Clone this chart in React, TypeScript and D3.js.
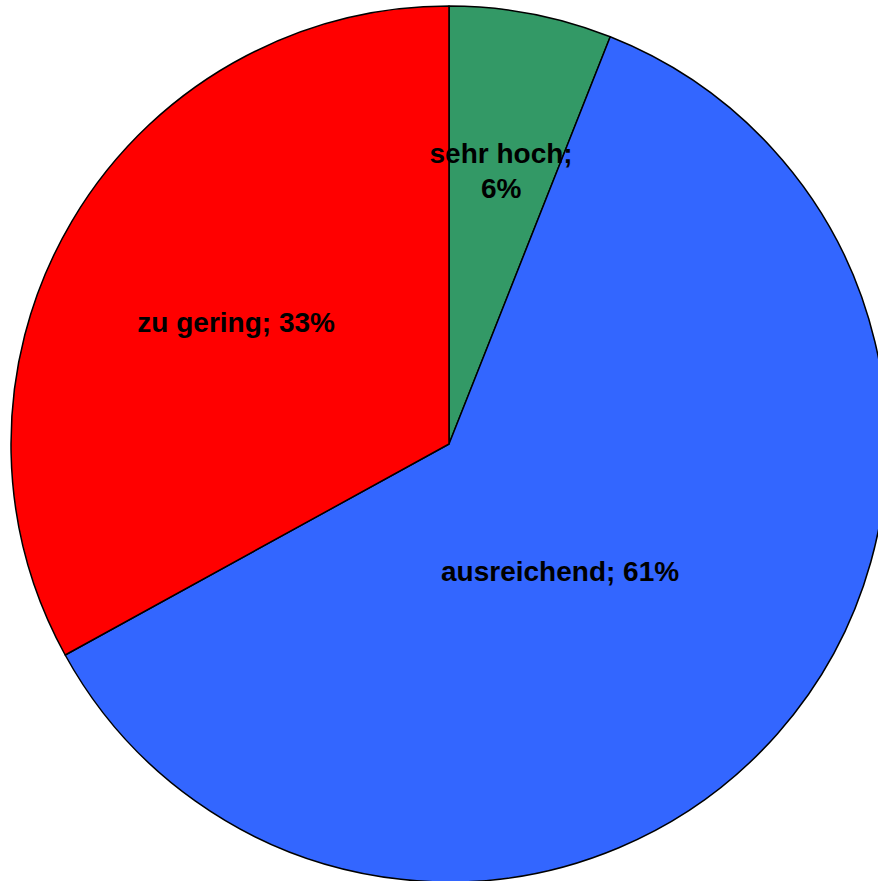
import { useEffect, useRef } from 'react';
import * as d3 from 'd3';

const categories = ['sehr hoch', 'ausreichend', 'zu gering'];
const values = [6, 61, 33];
const colors = ['#339966', '#3366FF', '#FF0000'];

// label placement (angle in degrees clockwise from top, radius as fraction of pie radius)
const labelLayout = [
  { angle: 10.8, r: 0.635, lines: (c: string, v: number) => [`${c};`, `${v}%`] },
  { angle: 138.8, r: 0.385, lines: (c: string, v: number) => [`${c}; ${v}%`] },
  { angle: 299.8, r: 0.56, lines: (c: string, v: number) => [`${c}; ${v}%`] },
];

export default function App() {
  const svgRef = useRef<SVGSVGElement | null>(null);

  useEffect(() => {
    if (!svgRef.current) return;
    const width = 878;
    const height = 881;
    const cx = 449;
    const cy = 444;
    const radius = 438;

    d3.select(svgRef.current).selectAll('*').remove();

    const svg = d3
      .select(svgRef.current)
      .attr('width', width)
      .attr('height', height)
      .append('g')
      .attr('transform', `translate(${cx},${cy})`);

    const pie = d3
      .pie<number>()
      .sort(null)
      .value((d) => d);

    const arc = d3.arc<d3.PieArcDatum<number>>().innerRadius(0).outerRadius(radius);

    svg
      .selectAll('path')
      .data(pie(values))
      .join('path')
      .attr('d', arc)
      .attr('fill', (_, i) => colors[i])
      .attr('stroke', '#000')
      .attr('stroke-width', 1.5)
      .attr('stroke-linejoin', 'round');

    const fontSize = 28;
    const lineHeight = 35;

    categories.forEach((c, i) => {
      const layout = labelLayout[i];
      const a = (layout.angle * Math.PI) / 180;
      const x = Math.sin(a) * radius * layout.r;
      const y = -Math.cos(a) * radius * layout.r;
      const lines = layout.lines(c, values[i]);
      const text = svg
        .append('text')
        .attr('x', x)
        .attr('y', y)
        .attr('text-anchor', 'middle')
        .attr('font-family', 'Liberation Sans, Arial, sans-serif')
        .attr('font-weight', 'bold')
        .attr('font-size', fontSize)
        .attr('fill', '#000');
      lines.forEach((l, j) => {
        text
          .append('tspan')
          .attr('x', x)
          .attr('dy', j === 0 ? ((1 - lines.length) * lineHeight) / 2 + fontSize * 0.35 : lineHeight)
          .text(l);
      });
    });
  }, []);

  return <svg ref={svgRef} style={{ position: 'absolute', left: 0, top: 0 }}></svg>;
}
